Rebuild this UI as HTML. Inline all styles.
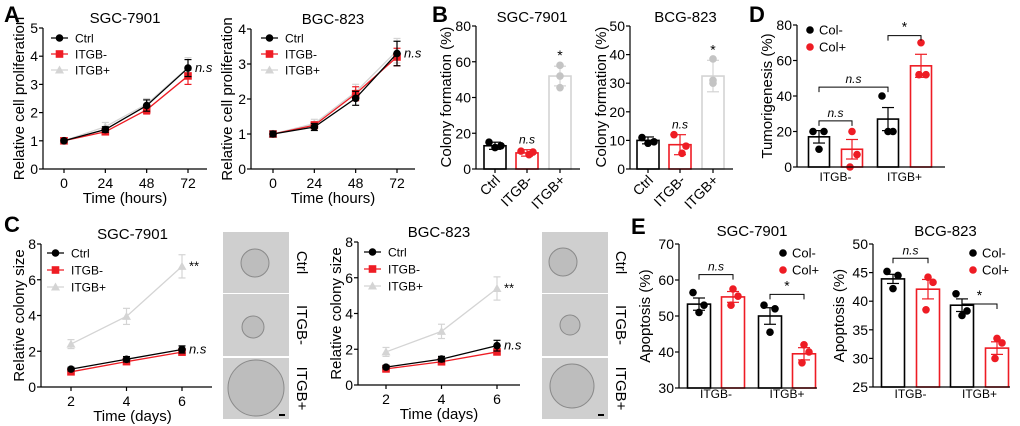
<!DOCTYPE html>
<html><head><meta charset="utf-8"><style>
html,body{margin:0;padding:0;background:#fff;}
svg{display:block;font-family:"Liberation Sans",Arial,sans-serif;}
</style></head><body>
<svg id="fig" width="1020" height="426" viewBox="0 0 1020 426" xmlns="http://www.w3.org/2000/svg"></svg>
<script>
// ---------- DATA ----------
const aTimes = [0, 24, 48, 72];
const aTicksY1 = [0, 1, 2, 3, 4, 5];
const aTicksY2 = [0, 1, 2, 3, 4];
const a1Ctrl = [1, 1.4, 2.25, 3.58];
const a1Minus = [1, 1.32, 2.1, 3.3];
const a1Plus = [1, 1.5, 2.3, 3.6];
const a1CtrlErr = [0.05, 0.1, 0.2, 0.3];
const a1MinusErr = [0.05, 0.08, 0.15, 0.3];
const a1PlusErr = [0.05, 0.15, 0.2, 0.35];
const a2Ctrl = [1, 1.2, 2.02, 3.3];
const a2Minus = [1, 1.25, 2.15, 3.2];
const a2Plus = [1, 1.3, 2.2, 3.38];
const a2CtrlErr = [0.08, 0.1, 0.2, 0.35];
const a2MinusErr = [0.08, 0.1, 0.2, 0.25];
const a2PlusErr = [0.05, 0.12, 0.22, 0.35];

const cDays = [2, 4, 6];
const cTicksY = [0, 2, 4, 6, 8];
const c1Ctrl = [1, 1.55, 2.1];
const c1Minus = [0.85, 1.42, 1.95];
const c1Plus = [2.4, 3.95, 6.75];
const c1CtrlErr = [0.1, 0.15, 0.2];
const c1MinusErr = [0.08, 0.1, 0.12];
const c1PlusErr = [0.25, 0.45, 0.65];
const c2Ctrl = [1, 1.45, 2.2];
const c2Minus = [0.9, 1.3, 1.85];
const c2Plus = [1.85, 3, 5.4];
const c2CtrlErr = [0.1, 0.15, 0.3];
const c2MinusErr = [0.08, 0.1, 0.15];
const c2PlusErr = [0.25, 0.4, 0.65];

const bGroups = ["Ctrl", "ITGB-", "ITGB+"];
const b1Means = [13, 9, 52];
const b1Err = [2, 1.8, 5.5];
const b1Dots = [[15, 12, 13], [10, 8, 9.5], [58, 52, 45.5]];
const b1Ticks = [0, 20, 40, 60, 80];
const b2Means = [10, 8.5, 32.5];
const b2Err = [1.2, 3.5, 5.5];
const b2Dots = [[11, 9, 9.5], [12, 5.5, 8], [38.5, 30, 31]];
const b2Ticks = [0, 10, 20, 30, 40, 50];

const dGroups = ["ITGB-", "ITGB+"];
const dColMinus = [17, 27];
const dColPlus = [10, 57];
const dColMinusErr = [3.5, 6.5];
const dColPlusErr = [5.5, 6.5];
const dColMinusDots = [[20, 20, 10], [40, 20, 20]];
const dColPlusDots = [[20, 7, 0], [70, 52, 52]];
const dTicks = [0, 20, 40, 60, 80];

const e1ColMinus = [53.3, 50];
const e1ColPlus = [55.3, 39.5];
const e1ColMinusErr = [1.7, 2.3];
const e1ColPlusErr = [1.5, 1.7];
const e1ColMinusDots = [[56.5, 53, 51], [53, 52, 45.5]];
const e1ColPlusDots = [[57.5, 55.5, 53], [42, 40, 37]];
const e1Ticks = [30, 40, 50, 60, 70];
const e2ColMinus = [43.9, 39.3];
const e2ColPlus = [42.1, 31.8];
const e2ColMinusErr = [0.8, 1.1];
const e2ColPlusErr = [1.7, 1.1];
const e2ColMinusDots = [[45.2, 44.5, 42.2], [41.3, 38.3, 37.5]];
const e2ColPlusDots = [[44.2, 43.3, 38.5], [33.5, 32.7, 30]];
const e2Ticks = [25, 30, 35, 40, 45, 50];

// ---------- HELPERS ----------
const NS = "http://www.w3.org/2000/svg";
const svg = document.getElementById("fig");
const RED = "#ee1c24", GRAY = "#d4d4d4", DOTGRAY = "#c4c4c4";
function el(tag, attrs, name, parent) {
  const e = document.createElementNS(NS, tag);
  for (const k in attrs) e.setAttribute(k, attrs[k]);
  
  
  (parent || svg).appendChild(e);
  return e;
}
function txt(x, y, s, size, name, extra) {
  const a = Object.assign({x: x, y: y, "font-size": size, fill: "#000"}, extra || {});
  const t = el("text", a, name);
  t.textContent = s;
  return t;
}
function lin(d0, d1, p0, p1) { return v => p0 + (v - d0) * (p1 - p0) / (d1 - d0); }
function line(x1, y1, x2, y2, stroke, w, name) {
  return el("line", {x1: x1, y1: y1, x2: x2, y2: y2, stroke: stroke, "stroke-width": w || 1.2}, name);
}
function yAxis(ax, ysc, ticks, top, bottom, name) {
  line(ax, top, ax, bottom, "#000", 1.2, name + "-y-axis");
  ticks.forEach(t => {
    const y = ysc(t);
    line(ax - 4, y, ax, y, "#000", 1.2, name + "-y-tick");
    txt(ax - 5, y + 5, String(t), 14, name + "-y-tick-label", {"text-anchor": "end"});
  });
}
function marker(kind, x, y, color, name) {
  if (kind === "circle") el("circle", {cx: x, cy: y, r: 3.8, fill: color}, name);
  else if (kind === "square") el("rect", {x: x - 3.8, y: y - 3.8, width: 7.6, height: 7.6, fill: color}, name);
  else el("path", {d: `M${x},${y - 4.5}L${x + 4.5},${y + 3.5}L${x - 4.5},${y + 3.5}Z`, fill: color}, name);
}
function series(xs, ys, errs, xsc, ysc, color, kind, name) {
  let d = "";
  xs.forEach((x, i) => { d += (i ? "L" : "M") + xsc(x) + "," + ysc(ys[i]); });
  el("path", {d: d, fill: "none", stroke: color, "stroke-width": 1.3}, name + "-line");
  xs.forEach((x, i) => {
    const px = xsc(x), hi = ysc(ys[i] + errs[i]), lo = ysc(ys[i] - errs[i]);
    line(px, hi, px, lo, color, 1.2, name + "-error-bar");
    line(px - 3.5, hi, px + 3.5, hi, color, 1.2, name + "-error-cap");
    line(px - 3.5, lo, px + 3.5, lo, color, 1.2, name + "-error-cap");
    marker(kind, px, ysc(ys[i]), color, name + "-point");
  });
}
function lineChart(c) {
  const xsc = lin(c.xs[0], c.xs[c.xs.length - 1], c.x0, c.x1);
  const ysc = lin(0, c.ymax, c.yb, c.yt);
  yAxis(c.ax, ysc, c.ticks, c.yt, c.yb, c.name);
  line(c.ax, c.yb, c.axEnd, c.yb, "#000", 1.2, c.name + "-x-axis");
  c.xs.forEach(x => {
    line(xsc(x), c.yb, xsc(x), c.yb + 4, "#000", 1.2, c.name + "-x-tick");
    txt(xsc(x), c.yb + 19, String(x), 14, c.name + "-x-tick-label", {"text-anchor": "middle"});
  });
  series(c.xs, c.plus, c.plusErr, xsc, ysc, GRAY, "tri", c.name + "-itgb-plus");
  series(c.xs, c.minus, c.minusErr, xsc, ysc, RED, "square", c.name + "-itgb-minus");
  series(c.xs, c.ctrl, c.ctrlErr, xsc, ysc, "#000", "circle", c.name + "-ctrl");
  txt((c.ax + c.axEnd) / 2 + c.titleDx, c.yt - 5, c.title, 15, c.name + "-title", {"text-anchor": "middle"});
  txt((c.ax + c.axEnd) / 2 + c.xtDx, c.yb + 34, c.xTitle, 15, c.name + "-x-axis-title", {"text-anchor": "middle"});
  const ym = (c.yt + c.yb) / 2;
  txt(c.ylx, ym, c.yTitle, 15, c.name + "-y-axis-title", {"text-anchor": "middle", transform: `rotate(-90 ${c.ylx} ${ym})`});
  const L = [["Ctrl", "#000", "circle"], ["ITGB-", RED, "square"], ["ITGB+", GRAY, "tri"]];
  L.forEach((l, i) => {
    const y = c.legY + i * c.legDy;
    line(c.legX, y, c.legX + 17, y, l[1], 1.3, c.name + "-legend-line");
    marker(l[2], c.legX + 8.5, y, l[1], c.name + "-legend-marker");
    txt(c.legX + 24, y + 4.5, l[0], 12, c.name + "-legend-label");
  });
  c.notes.forEach(n => {
    const last = c.xs.length - 1;
    txt(xsc(c.xs[last]) + 7, ysc(n[1]) + 4, n[0], 13, c.name + "-significance", {"font-style": n[0] === "n.s" ? "italic" : "normal"});
  });
}
function errBar(px, mean, err, ysc, color, name, cap) {
  const hi = ysc(mean + err), lo = ysc(mean - err);
  line(px, hi, px, lo, color, 1.2, name + "-error-bar");
  line(px - cap, hi, px + cap, hi, color, 1.2, name + "-error-cap");
  line(px - cap, lo, px + cap, lo, color, 1.2, name + "-error-cap");
}
function bar(px, val, w, ysc, yb, color, name) {
  el("rect", {x: px - w / 2, y: ysc(val), width: w, height: yb - ysc(val), fill: "#fff", stroke: color, "stroke-width": 1.6}, name);
}
function dots(px, vals, ysc, color, name, offs) {
  vals.forEach((v, i) => el("circle", {cx: px + offs[i], cy: ysc(v), r: 3.8, fill: color}, name + "-dot"));
}
function bracket(x1, x2, y, label, name) {
  el("path", {d: `M${x1},${y + 5}V${y}H${x2}V${y + 5}`, fill: "none", stroke: "#000", "stroke-width": 1}, name + "-bracket");
  txt((x1 + x2) / 2, y - 4, label, label === "*" ? 14 : 12, name + "-bracket-label", {"text-anchor": "middle", "font-style": label === "n.s" ? "italic" : "normal"});
}

// ---------- PANEL LETTERS ----------
[["A", 4, 22], ["B", 432, 22], ["D", 749, 22], ["C", 4, 232], ["E", 631, 234]].forEach(p =>
  txt(p[1], p[2], p[0], 22, "panel-label-" + p[0].toLowerCase(), {"font-weight": "bold"}));

// ---------- A ----------
lineChart({name: "a1", xs: aTimes, x0: 64, x1: 188, ax: 43, axEnd: 207, yb: 169, yt: 28, ymax: 5, ticks: aTicksY1,
  ctrl: a1Ctrl, minus: a1Minus, plus: a1Plus, ctrlErr: a1CtrlErr, minusErr: a1MinusErr, plusErr: a1PlusErr,
  title: "SGC-7901", titleDx: 0, xTitle: "Time (hours)", xtDx: 0, yTitle: "Relative cell proliferation", ylx: 24,
  legX: 51, legY: 38, legDy: 16, notes: [["n.s", a1Ctrl[3]]]});
lineChart({name: "a2", xs: aTimes, x0: 273, x1: 397, ax: 251, axEnd: 415, yb: 169, yt: 29, ymax: 4, ticks: aTicksY2,
  ctrl: a2Ctrl, minus: a2Minus, plus: a2Plus, ctrlErr: a2CtrlErr, minusErr: a2MinusErr, plusErr: a2PlusErr,
  title: "BGC-823", titleDx: 0, xTitle: "Time (hours)", xtDx: 0, yTitle: "Relative cell proliferation", ylx: 232,
  legX: 261, legY: 38, legDy: 16, notes: [["n.s", a2Ctrl[3]]]});

// ---------- C ----------
lineChart({name: "c1", xs: cDays, x0: 71, x1: 182, ax: 41, axEnd: 212, yb: 387, yt: 244, ymax: 8, ticks: cTicksY,
  ctrl: c1Ctrl, minus: c1Minus, plus: c1Plus, ctrlErr: c1CtrlErr, minusErr: c1MinusErr, plusErr: c1PlusErr,
  title: "SGC-7901", titleDx: 6, xTitle: "Time (days)", xtDx: 6, yTitle: "Relative colony size", ylx: 24,
  legX: 47, legY: 253, legDy: 17, notes: [["**", c1Plus[2]], ["n.s", c1Ctrl[2]]]});
lineChart({name: "c2", xs: cDays, x0: 386, x1: 497, ax: 358, axEnd: 520, yb: 385, yt: 242, ymax: 8, ticks: cTicksY,
  ctrl: c2Ctrl, minus: c2Minus, plus: c2Plus, ctrlErr: c2CtrlErr, minusErr: c2MinusErr, plusErr: c2PlusErr,
  title: "BGC-823", titleDx: 0, xTitle: "Time (days)", xtDx: 0, yTitle: "Relative colony size", ylx: 341,
  legX: 364, legY: 252, legDy: 17, notes: [["**", c2Plus[2]], ["n.s", c2Ctrl[2]]]});

// micrograph panels
function micro(x, w, circles, name) {
  const tops = [232, 294, 358], hs = [61, 62, 61], labs = ["Ctrl", "ITGB-", "ITGB+"];
  tops.forEach((t, i) => {
    el("rect", {x: x, y: t, width: w, height: hs[i], fill: "#cfcfcf"}, name + "-image-" + labs[i].toLowerCase());
    const c = circles[i];
    el("circle", {cx: x + c[0], cy: t + c[1], r: c[2], fill: "#bdbdbd", stroke: "#8a8a8a", "stroke-width": 1}, name + "-colony");
    const lx = x + w + 8, ly = t + hs[i] / 2;
    txt(lx, ly, labs[i], 15, name + "-image-label", {"text-anchor": "middle", transform: `rotate(90 ${lx} ${ly})`});
  });
  line(x + w - 10, 415, x + w - 4, 415, "#000", 2, name + "-scale-bar");
}
micro(223, 66, [[32, 31, 14], [30, 33, 11], [33, 30, 28]], "c1");
micro(542, 66, [[21, 30, 14], [28, 31, 10], [30, 28, 22]], "c2");

// ---------- B ----------
function bChart(n, ax, axEnd, centers, ymax, ticks, means, errs, dts, title, ylx) {
  const ysc = lin(0, ymax, 169, 26);
  const cols = ["#000", RED, GRAY], dcols = ["#000", RED, DOTGRAY];
  const offs = [[-6, 0, 6], [-6, 2, 6], [0, 0, 0]];
  centers.forEach((c, i) => {
    bar(c, means[i], 22, ysc, 169, cols[i], n + "-bar-" + bGroups[i].toLowerCase());
    errBar(c, means[i], errs[i], ysc, cols[i], n + "-" + bGroups[i].toLowerCase(), 6);
    dots(c, dts[i], ysc, dcols[i], n + "-" + bGroups[i].toLowerCase(), offs[i]);
  });
  yAxis(ax, ysc, ticks, 26, 169, n);
  line(ax, 169, axEnd, 169, "#000", 1.2, n + "-x-axis");
  centers.forEach((c, i) => {
    line(c, 169, c, 173, "#000", 1.2, n + "-x-tick");
    txt(c + 6, 181, bGroups[i], 14, n + "-x-tick-label", {"text-anchor": "end", transform: `rotate(-45 ${c + 6} 181)`});
  });
  txt((ax + axEnd) / 2 + 4, 22, title, 15, n + "-title", {"text-anchor": "middle"});
  txt(centers[1], ysc(means[1] + errs[1]) - 6, "n.s", 12, n + "-significance", {"text-anchor": "middle", "font-style": "italic"});
  txt(centers[2], ysc(means[2] + errs[2]) - 6, "*", 14, n + "-significance", {"text-anchor": "middle"});
  txt(ylx, 97, "Colony formation (%)", 15, n + "-y-axis-title", {"text-anchor": "middle", transform: `rotate(-90 ${ylx} 97)`});
}
bChart("b1", 476, 580, [495, 527, 560], 80, b1Ticks, b1Means, b1Err, b1Dots, "SGC-7901", 451);
bChart("b2", 630, 733, [648, 680, 713], 50, b2Ticks, b2Means, b2Err, b2Dots, "BCG-823", 606);

// ---------- D & E grouped ----------
function gChart(n, ax, axEnd, yb, yt, ymin, ymax, ticks, pos, minus, plus, mErr, pErr, mDots, pDots, labY, legX, legY, ylx, yTitle, title, brackets) {
  const ysc = lin(ymin, ymax, yb, yt);
  const bw = pos.w;
  dGroups.forEach((g, i) => {
    const cm = pos.c[i * 2], cp = pos.c[i * 2 + 1];
    bar(cm, minus[i], bw, ysc, yb, "#000", n + "-bar-col-minus-" + g.toLowerCase());
    bar(cp, plus[i], bw, ysc, yb, RED, n + "-bar-col-plus-" + g.toLowerCase());
    dots(cm, mDots[i], ysc, "#000", n + "-col-minus", [-6, 5, 0]);
    dots(cp, pDots[i], ysc, RED, n + "-col-plus", [0, 5, -2]);
    errBar(cm, minus[i], mErr[i], ysc, "#000", n + "-col-minus", 6);
    errBar(cp, plus[i], pErr[i], ysc, RED, n + "-col-plus", 6);
    txt((cm + cp) / 2, labY, g, 12, n + "-x-group-label", {"text-anchor": "middle"});
  });
  yAxis(ax, ysc, ticks, yt, yb, n);
  line(ax, yb, axEnd, yb, "#000", 1.2, n + "-x-axis");
  el("circle", {cx: legX, cy: legY, r: 3.8, fill: "#000"}, n + "-legend-marker");
  txt(legX + 9, legY + 4.5, "Col-", 13, n + "-legend-label");
  el("circle", {cx: legX, cy: legY + 17, r: 3.8, fill: RED}, n + "-legend-marker");
  txt(legX + 9, legY + 21.5, "Col+", 13, n + "-legend-label");
  const ym = (yt + yb) / 2;
  txt(ylx, ym, yTitle, 15, n + "-y-axis-title", {"text-anchor": "middle", transform: `rotate(-90 ${ylx} ${ym})`});
  if (title) txt((ax + axEnd) / 2 + 4, yt - 8, title, 15, n + "-title", {"text-anchor": "middle"});
  brackets.forEach(b => bracket(pos.c[b[0]], pos.c[b[1]], ysc(b[2]), b[3], n));
}
gChart("d", 797, 945, 167, 25, 0, 80, dTicks, {c: [819, 852, 888, 921], w: 21}, dColMinus, dColPlus, dColMinusErr, dColPlusErr,
  dColMinusDots, dColPlusDots, 181, 810, 30, 772, "Tumorigenesis (%)", null,
  [[2, 3, 74, "*"], [0, 2, 45, "n.s"], [0, 1, 26, "n.s"]]);
gChart("e1", 679, 817, 388, 244, 30, 70, e1Ticks, {c: [699, 733, 770, 804], w: 23}, e1ColMinus, e1ColPlus, e1ColMinusErr, e1ColPlusErr,
  e1ColMinusDots, e1ColPlusDots, 398, 783, 253, 650, "Apoptosis (%)", "SGC-7901",
  [[0, 1, 61.5, "n.s"], [2, 3, 56, "*"]]);
gChart("e2", 873, 1010, 387, 244, 25, 50, e2Ticks, {c: [893, 928, 962, 997], w: 23}, e2ColMinus, e2ColPlus, e2ColMinusErr, e2ColPlusErr,
  e2ColMinusDots, e2ColPlusDots, 398, 973, 253, 844, "Apoptosis (%)", "BCG-823",
  [[0, 1, 47.5, "n.s"], [2, 3, 39.5, "*"]]);
</script>
</body></html>
